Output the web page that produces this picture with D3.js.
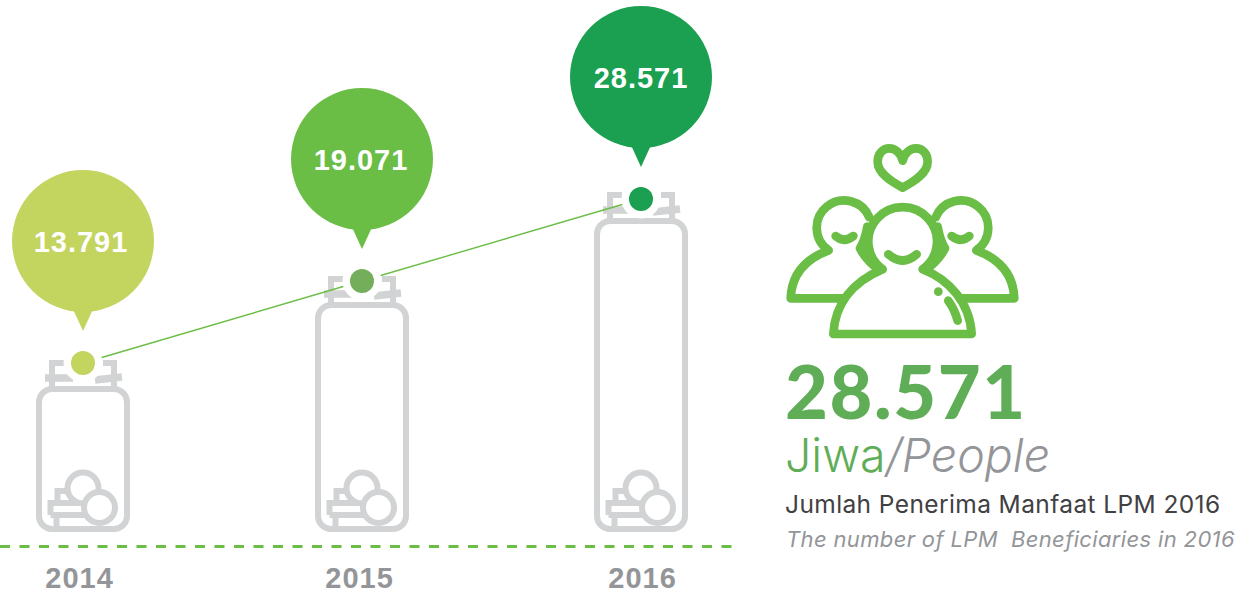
<!DOCTYPE html>
<html>
<head>
<meta charset="utf-8">
<script src="https://cdn.jsdelivr.net/npm/d3@7"></script>
<style>
  html, body { margin: 0; background: #fff; }
  svg { display: block; }
  text { font-family: "Liberation Sans", Arial, sans-serif; }
  .lato { font-family: Lato, sans-serif; }
  .inter { font-family: Inter, sans-serif; }
</style>
</head>
<body>
<svg id="chart" width="1240" height="607"></svg>
<script>
const years = ['2014', '2015', '2016'];
const beneficiaries = [13791, 19071, 28571];
const bubbleColors = ['#c3d45f', '#6abd45', '#1aa050'];
const dotColors = ['#c3d45f', '#74ae5a', '#1aa050'];

const jarGrey = '#d1d3d4';
const green = '#6abd45';
const textGrey = '#939598';

const svg = d3.select('#chart');

const xScale = d3.scalePoint().domain(years).range([83, 641]);
// the jars in the original are not proportional, so the scales go through each value
const yScale = d3.scaleLinear().domain(beneficiaries).range([363, 281, 199]);
const jarTop = d3.scaleLinear().domain(beneficiaries).range([389, 305, 221]);
const jarBottom = 529;

const dotted = d3.formatLocale({ decimal: ',', thousands: '.', grouping: [3], currency: ['', ''] }).format(',d');

const data = years.map((year, i) => ({
  year,
  value: beneficiaries[i],
  bubble: bubbleColors[i],
  dot: dotColors[i]
}));

// jars
const jars = svg.selectAll('.jar')
  .data(data)
  .enter()
  .append('g')
  .classed('jar', true)
  .attr('transform', d => `translate(${xScale(d.year)},0)`)
  .attr('fill', 'none')
  .attr('stroke', jarGrey)
  .attr('stroke-width', 6);

jars.append('rect')
  .attr('x', -44)
  .attr('width', 88)
  .attr('y', d => jarTop(d.value))
  .attr('height', d => jarBottom - jarTop(d.value))
  .attr('rx', 13);

// neck and lid
jars.append('path')
  .attr('transform', d => `translate(0,${jarTop(d.value)})`)
  .attr('d', 'M-34,-26 H-19 M-31,-26 V0 M34,-26 H20 M31,-26 V0');
jars.append('path')
  .attr('transform', d => `translate(0,${jarTop(d.value)})`)
  .attr('stroke-width', 7.5)
  .attr('d', 'M-38,-11 H-10 M39,-12 L12,-9');

// coins
const coins = jars.append('g').attr('transform', `translate(0,${jarBottom})`);
coins.append('path').attr('d', 'M-26.5,0 V-14 M-32.5,-14 H8 M-32.5,-14 V-26 H2 M-25.5,-26 V-38 H-10');
coins.append('circle').attr('cx', 0).attr('cy', -41).attr('r', 15.5).attr('fill', '#fff');
coins.append('circle').attr('cx', 16.5).attr('cy', -21.5).attr('r', 15.5).attr('fill', '#fff');

// trend line
const line = d3.line().x(d => xScale(d.year)).y(d => yScale(d.value));
svg.append('path')
  .attr('d', line(data))
  .attr('fill', 'none')
  .attr('stroke', green)
  .attr('stroke-width', 1.4);

// white ring round the dots, then the dots
svg.selectAll('.halo')
  .data(data)
  .enter()
  .append('circle')
  .classed('halo', true)
  .attr('cx', d => xScale(d.year))
  .attr('cy', d => yScale(d.value))
  .attr('r', 19.5)
  .attr('fill', '#fff');

svg.selectAll('.dot')
  .data(data)
  .enter()
  .append('circle')
  .classed('dot', true)
  .attr('cx', d => xScale(d.year))
  .attr('cy', d => yScale(d.value))
  .attr('r', 12)
  .attr('fill', d => d.dot);

// speech bubbles
const bubbles = svg.selectAll('.bubble')
  .data(data)
  .enter()
  .append('g')
  .classed('bubble', true)
  .attr('transform', d => `translate(${xScale(d.year)},${yScale(d.value) - 32})`);

bubbles.append('circle')
  .attr('cy', -90)
  .attr('r', 71)
  .attr('fill', d => d.bubble);

bubbles.append('path')
  .attr('d', 'M-11,-24 L0,0 L11,-24 Z')
  .attr('fill', d => d.bubble);

bubbles.append('text')
  .attr('y', -79)
  .attr('dx', (d, i) => [-2, -1, 0][i])
  .attr('text-anchor', 'middle')
  .attr('fill', '#fff')
  .attr('font-size', 29)
  .attr('font-weight', 700)
  .attr('letter-spacing', 1)
  .text(d => dotted(d.value));

// baseline and years
svg.append('line')
  .attr('x1', 0)
  .attr('x2', 733)
  .attr('y1', 546.5)
  .attr('y2', 546.5)
  .attr('stroke', green)
  .attr('stroke-width', 3)
  .attr('stroke-dasharray', '10 9.5');

const axis = svg.append('g')
  .attr('transform', 'translate(0,546)')
  .call(d3.axisBottom(xScale).tickSize(0).tickPadding(21));
axis.select('.domain').remove();
axis.selectAll('text')
  .attr('dx', (d, i) => [-4, -3, 1][i])
  .attr('fill', textGrey)
  .attr('font-size', 29)
  .attr('font-weight', 700)
  .attr('letter-spacing', 1)
  .style('font-family', '"Liberation Sans", Arial, sans-serif');

// people icon, drawn in the space of a 3x crop
const icon = svg.append('g')
  .attr('transform', 'translate(770,130) scale(0.3333)')
  .attr('fill', 'none')
  .attr('stroke', green)
  .attr('stroke-width', 26)
  .attr('stroke-linecap', 'round')
  .attr('stroke-linejoin', 'round');

icon.append('path')
  .attr('d', 'M398,92 C392,68 375,55 358,55 C338,55 323,72 323,95 C323,130 365,155 398,173 C431,155 473,130 473,95 C473,72 458,55 438,55 C421,55 404,68 398,92 Z');

const sidePerson = 'M298,262 A82,82 0 1 0 176,361 C110,385 65,430 62,505 H230 M197,318 Q222,340 250,318 M292,290 Q285,330 270,355 Q285,385 315,410';
icon.append('path').attr('d', sidePerson);
icon.append('path').attr('d', sidePerson).attr('transform', 'translate(795,0) scale(-1,1)');

icon.append('path')
  .attr('fill', '#fff')
  .attr('d', 'M338,418 A103,103 0 1 1 458,418 C540,450 600,520 605,612 H190 C195,520 250,455 338,418 Z');
icon.append('path').attr('d', 'M355,373 Q398,410 440,373');
icon.append('path').attr('d', 'M535,512 Q555,540 563,572');
icon.append('circle').attr('cx', 505).attr('cy', 485).attr('r', 13).attr('fill', green).attr('stroke', 'none');

// right side text
svg.append('text')
  .classed('lato', true)
  .attr('x', 785)
  .attr('y', 419)
  .attr('fill', '#5fae57')
  .attr('font-size', 74)
  .attr('font-weight', 900)
  .attr('letter-spacing', 1.6)
  .text(dotted(d3.max(beneficiaries)));

const unit = svg.append('text')
  .classed('inter', true)
  .attr('x', 785)
  .attr('y', 472)
  .attr('font-size', 46.5)
  .attr('font-weight', 300);
unit.append('tspan').attr('fill', '#5fae57').text('Jiwa');
unit.append('tspan').attr('fill', textGrey).attr('font-style', 'italic').text('/People');

svg.append('text')
  .classed('inter', true)
  .attr('x', 785)
  .attr('y', 513)
  .attr('fill', '#414042')
  .attr('font-size', 24.5)
  .attr('letter-spacing', 0.4)
  .text('Jumlah Penerima Manfaat LPM 2016');

svg.append('text')
  .classed('inter', true)
  .attr('x', 786)
  .attr('y', 547)
  .attr('fill', textGrey)
  .attr('font-size', 22)
  .attr('font-style', 'italic')
  .attr('font-weight', 400)
  .attr('letter-spacing', 0.35)
  .attr('xml:space', 'preserve')
  .text('The number of LPM  Beneficiaries in 2016');
</script>
</body>
</html>
